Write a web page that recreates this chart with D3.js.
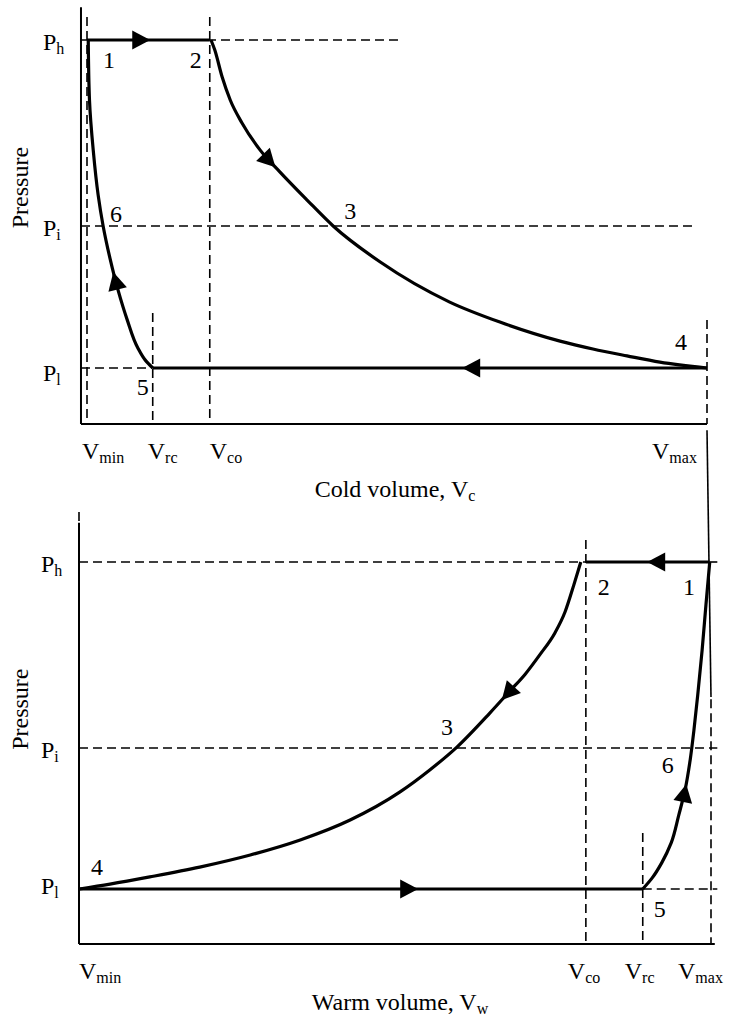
<!DOCTYPE html>
<html>
<head>
<meta charset="utf-8">
<script src="https://cdn.jsdelivr.net/npm/d3@7"></script>
<style>
  body { margin: 0; background: #fff; }
</style>
</head>
<body>
<svg id="chart" width="738" height="1017"></svg>
<script>
// pressure levels (normalised: Pl = 0, Ph = 1)
var pressureNames = ['h', 'i', 'l'];
var coldPressure = [1, 0.433, 0];
var warmPressure = [1, 0.431, 0];

// volume ticks (normalised: Vmin = 0, Vmax = 1)
var coldVolumeNames = ['min', 'rc', 'co', 'max'];
var coldVolume = [0, 0.106, 0.198, 1];
var warmVolumeNames = ['min', 'co', 'rc', 'max'];
var warmVolume = [0, 0.802, 0.892, 1];

// process curves, in the direction of flow [V, P]
var coldExpansion = [[0.200, 1], [0.206, 0.970], [0.218, 0.887], [0.231, 0.817], [0.250, 0.747],
    [0.279, 0.665], [0.311, 0.598], [0.355, 0.512], [0.397, 0.433], [0.473, 0.323], [0.585, 0.201],
    [0.666, 0.140], [0.763, 0.082], [0.816, 0.058], [0.871, 0.037], [0.924, 0.018], [1, 0]];
var coldCompression = [[0.106, 0], [0.094, 0.024], [0.082, 0.061], [0.065, 0.146], [0.050, 0.238],
    [0.037, 0.335], [0.026, 0.433], [0.018, 0.527], [0.010, 0.665], [0.004, 0.817], [0.002, 1]];
var warmExpansion = [[0.794, 1], [0.783, 0.930], [0.769, 0.847], [0.753, 0.783], [0.729, 0.716],
    [0.706, 0.657], [0.682, 0.606], [0.650, 0.538], [0.598, 0.434], [0.555, 0.364], [0.508, 0.297],
    [0.429, 0.211], [0.350, 0.150], [0.271, 0.104], [0.191, 0.067], [0.112, 0.037], [0.049, 0.015], [0, 0]];
var warmCompression = [[0.892, 0], [0.907, 0.034], [0.922, 0.080], [0.937, 0.141], [0.949, 0.226],
    [0.959, 0.303], [0.967, 0.394], [0.973, 0.486], [0.979, 0.593], [0.986, 0.731], [0.992, 0.869], [0.998, 1]];

// state points 1..6 [V, P]
var stateNames = ['1', '2', '3', '4', '5', '6'];
var coldStates = [[0, 1], [0.198, 1], [0.397, 0.433], [1, 0], [0.106, 0], [0.026, 0.433]];
var warmStates = [[1, 1], [0.802, 1], [0.598, 0.434], [0, 0], [0.892, 0], [0.968, 0.431]];

var FONT = '"Liberation Serif", "Times New Roman", "DejaVu Serif", serif';

var svg = d3.select('#chart');

function drawPanel(cfg) {
    var x = cfg.x, y = cfg.y;
    var g = svg.append('g');

    function seg(v0, p0, v1, p1, dashed, width) {
        return g.append('line')
            .attr('x1', x(v0)).attr('y1', y(p0))
            .attr('x2', x(v1)).attr('y2', y(p1))
            .attr('stroke', '#000')
            .attr('stroke-width', width || 1.6)
            .attr('stroke-dasharray', dashed ? '9,5' : null);
    }

    function arrowAt(node, test) {
        var L = node.getTotalLength(), best = 0, bestD = Infinity;
        for (var i = 0; i <= 600; i++) {
            var pt = node.getPointAtLength(L * i / 600);
            var d = Math.abs(test(pt));
            if (d < bestD) { bestD = d; best = L * i / 600; }
        }
        var p = node.getPointAtLength(best),
            q = node.getPointAtLength(Math.max(0, best - 3));
        var ang = Math.atan2(p.y - q.y, p.x - q.x) * 180 / Math.PI;
        g.append('path')
            .attr('d', 'M0,0L-18,-9.5L-18,9.5Z')
            .attr('fill', '#000')
            .attr('transform', 'translate(' + p.x + ',' + p.y + ') rotate(' + ang + ')');
    }

    function text(sel) {
        return sel.attr('font-family', FONT).style('font-family', FONT).attr('fill', '#000');
    }

    var P = cfg.pressure, V = cfg.volume;

    // dashed reference lines
    cfg.dashH.forEach(function(d) { seg(d[0], d[2], d[1], d[2], true); });
    cfg.dashV.forEach(function(d) { seg(d[2], d[0], d[2], d[1], true); });

    // axes
    seg(cfg.xExt[0], cfg.yExt[0], cfg.xExt[1], cfg.yExt[0], false, 2);
    seg(cfg.xExt[0], cfg.yExt[0], cfg.xExt[0], cfg.yExt[1], false, 2);

    // isobaric processes [v0, v1, p, arrow tip v]
    cfg.isobars.forEach(function(d) {
        var node = g.append('path')
            .attr('d', 'M' + x(d[0]) + ',' + y(d[2]) + 'L' + x(d[1]) + ',' + y(d[2]))
            .attr('fill', 'none')
            .attr('stroke', '#000')
            .attr('stroke-width', 3.2)
            .node();
        arrowAt(node, function(pt) { return pt.x - x(d[3]); });
    });

    // expansion / compression curves
    cfg.curves.forEach(function(c) {
        var curve = d3.line()
            .x(function(d) { return x(d[0]); })
            .y(function(d) { return y(d[1]); })
            .curve(c.monotone);
        var node = g.append('path')
            .attr('d', curve(c.data))
            .attr('fill', 'none')
            .attr('stroke', '#000')
            .attr('stroke-width', 3.2)
            .node();
        arrowAt(node, function(pt) { return pt.y - y(c.arrowP); });
    });

    // pressure labels
    pressureNames.forEach(function(n, i) {
        var t = text(g.append('text'))
            .attr('x', x(cfg.xExt[0]) - 38)
            .attr('y', y(P[i]) + cfg.pLabelDy[i])
            .attr('font-size', 24);
        t.append('tspan').text('P');
        t.append('tspan').attr('font-size', 16).attr('dy', 4).text(n);
    });

    // volume labels
    cfg.volumeNames.forEach(function(n, i) {
        var t = text(g.append('text'))
            .attr('x', x(V[i]) + cfg.vLabelDx[i])
            .attr('y', y(cfg.yExt[0]) + 35)
            .attr('font-size', 24);
        t.append('tspan').text('V');
        t.append('tspan').attr('font-size', 16).attr('dy', 4).text(n);
    });

    // state numbers
    stateNames.forEach(function(n, i) {
        text(g.append('text'))
            .attr('x', x(cfg.states[i][0]) + cfg.stateDx[i][0])
            .attr('y', y(cfg.states[i][1]) + cfg.stateDx[i][1])
            .attr('font-size', 24)
            .text(n);
    });

    // axis titles
    text(g.append('text'))
        .attr('transform', 'translate(28,' + y(0.55) + ') rotate(-90)')
        .attr('text-anchor', 'middle')
        .attr('font-size', 24)
        .text('Pressure');

    var xt = text(g.append('text'))
        .attr('x', cfg.titleX)
        .attr('y', y(cfg.yExt[0]) + cfg.titleDy)
        .attr('text-anchor', 'middle')
        .attr('font-size', 24);
    xt.append('tspan').text(cfg.title + ', V');
    xt.append('tspan').attr('font-size', 16).attr('dy', 4).text(cfg.titleSub);

    return g;
}

var xCold = d3.scaleLinear().domain([0, 1]).range([87, 707]);
var yCold = d3.scaleLinear().domain([0, 1]).range([368, 40]);
var xWarm = d3.scaleLinear().domain([0, 1]).range([79, 711]);
var yWarm = d3.scaleLinear().domain([0, 1]).range([889, 562]);

drawPanel({
    x: xCold, y: yCold,
    pressure: coldPressure, volume: coldVolume, volumeNames: coldVolumeNames,
    xExt: [-0.0097, 1], yExt: [-0.171, 1.1],
    // [v0, v1, p]
    dashH: [[-0.0097, 0.505, 1], [-0.0097, 0.981, 0.433], [-0.0097, 0.106, 0]],
    // [p0, p1, v]
    dashV: [[1.07, -0.171, 0], [0.168, -0.171, 0.106], [1.07, -0.171, 0.198], [0.146, -0.171, 1]],
    isobars: [[0, 0.198, 1, 0.102], [1, 0.106, 0, 0.605]],
    curves: [
        {data: coldExpansion, arrowP: 0.613, monotone: d3.curveMonotoneX},
        {data: coldCompression, arrowP: 0.293, monotone: d3.curveMonotoneY}
    ],
    states: coldStates,
    stateDx: [[16, 28], [-20, 28], [11, -7], [-32, -18], [-16, 27], [7, -4]],
    pLabelDy: [10, 10, 13],
    vLabelDx: [-5, -5, 0, -55],
    title: 'Cold volume', titleSub: 'c', titleX: 395, titleDy: 73
});

drawPanel({
    x: xWarm, y: yWarm,
    pressure: warmPressure, volume: warmVolume, volumeNames: warmVolumeNames,
    xExt: [0, 1.006], yExt: [-0.168, 1.12],
    dashH: [[0, 0.802, 1], [0.998, 1.01, 1], [0, 1.01, 0.431], [0.892, 1.01, 0]],
    dashV: [[1.153, -0.168, 0], [1.067, -0.168, 0.802], [0.171, -0.168, 0.892], [0.58, -0.168, 1]],
    isobars: [[0.998, 0.802, 1, 0.899], [0, 0.892, 0, 0.536]],
    curves: [
        {data: warmExpansion, arrowP: 0.578, monotone: d3.curveMonotoneX},
        {data: warmCompression, arrowP: 0.321, monotone: d3.curveMonotoneY}
    ],
    states: warmStates,
    stateDx: [[-28, 33], [12, 33], [-16, -12], [12, -14], [11, 28], [-29, 25]],
    pLabelDy: [10, 10, 5],
    vLabelDx: [0, -18, -18, -33],
    title: 'Warm volume', titleSub: 'w', titleX: 400, titleDy: 66
});

// thin vertical line joining the two panels at Vmax
svg.append('line')
    .attr('x1', xCold(1)).attr('y1', yCold(-0.19))
    .attr('x2', xWarm(1)).attr('y2', yWarm(0.587))
    .attr('stroke', '#000')
    .attr('stroke-width', 1.6);
</script>
</body>
</html>
